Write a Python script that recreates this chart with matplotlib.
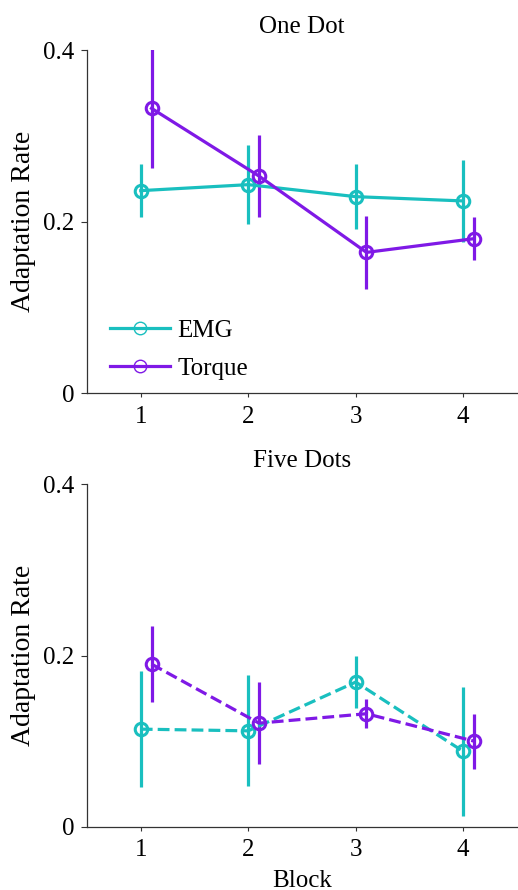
import matplotlib
matplotlib.use('Agg')
import matplotlib.pyplot as plt
import numpy as np

# data
blocks = np.array([1, 2, 3, 4])

one_emg = [0.236, 0.243, 0.229, 0.224]
one_emg_err = [0.031, 0.046, 0.038, 0.048]
one_torque = [0.332, 0.253, 0.164, 0.180]
one_torque_err = [0.070, 0.048, 0.043, 0.025]

five_emg = [0.114, 0.112, 0.169, 0.088]
five_emg_err = [0.068, 0.065, 0.030, 0.075]
five_torque = [0.190, 0.121, 0.132, 0.100]
five_torque_err = [0.044, 0.048, 0.017, 0.032]

yticks = [0, 0.2, 0.4]
yticklabels = ['0', '0.2', '0.4']

teal = '#19BFBF'
purple = '#7F19E6'

plt.rcParams['font.family'] = ['Liberation Serif', 'DejaVu Serif']

fig = plt.figure(figsize=(5.18, 8.9), dpi=100)

ax1 = fig.add_axes([0.168, 0.5584, 0.830, 0.3854])
ax2 = fig.add_axes([0.168, 0.0711, 0.830, 0.3847])


def draw_panel(ax, emg, emg_err, torque, torque_err, ls, title):
    kw = dict(marker='o', markersize=9, markerfacecolor='none', markeredgewidth=2.2,
              linewidth=2.3, elinewidth=2.3, capsize=0, linestyle=ls)
    ax.errorbar(blocks, emg, yerr=emg_err, color=teal, label='EMG', **kw)
    ax.errorbar(blocks + 0.1, torque, yerr=torque_err, color=purple, label='Torque', **kw)

    ax.set_xlim(0.5, 4.5)
    ax.set_ylim(0, 0.4)
    ax.set_xticks(blocks)
    ax.set_yticks(yticks)
    ax.set_yticklabels(yticklabels)
    ax.tick_params(axis='both', labelsize=18, direction='out', width=0.8, color='#333333')
    ax.tick_params(axis='y', length=4, pad=5)
    ax.tick_params(axis='x', length=3, pad=6)
    for s in ['top', 'right']:
        ax.spines[s].set_visible(False)
    for s in ['left', 'bottom']:
        ax.spines[s].set_linewidth(0.9)
        ax.spines[s].set_color('#333333')
    ax.set_ylabel('Adaptation Rate', fontsize=20, labelpad=5)
    ax.set_title(title, fontsize=18, pad=12.5)


draw_panel(ax1, one_emg, one_emg_err, one_torque, one_torque_err, '-', 'One Dot')
draw_panel(ax2, five_emg, five_emg_err, five_torque, five_torque_err, '--', 'Five Dots')

# legend with solid handles in the top panel
h1 = plt.Line2D([], [], color=teal, lw=2.3, marker='o', markersize=9,
                markerfacecolor='none', markeredgewidth=1.0)
h2 = plt.Line2D([], [], color=purple, lw=2.3, marker='o', markersize=9,
                markerfacecolor='none', markeredgewidth=1.0)
ax1.legend([h1, h2], ['EMG', 'Torque'], loc='lower left', bbox_to_anchor=(0.03, 0.01),
           frameon=False, fontsize=18, handlelength=2.4, handletextpad=0.3,
           labelspacing=0.62, borderaxespad=0.0)

ax2.set_xlabel('Block', fontsize=18, labelpad=6)

plt.savefig('out.png', dpi=100)
